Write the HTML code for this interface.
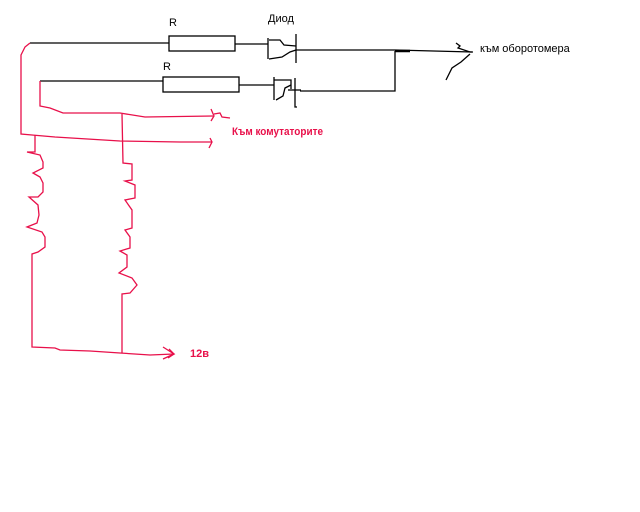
<!DOCTYPE html>
<html><head><meta charset="utf-8"><style>
html,body{margin:0;padding:0;background:#fff;}
svg{display:block;}
</style></head><body>
<svg width="640" height="512" viewBox="0 0 640 512" xmlns="http://www.w3.org/2000/svg">
<rect width="640" height="512" fill="#fff"/>
<g fill="none" stroke="#000" stroke-width="1.3">
  <!-- top branch -->
  <polyline points="30,43 169,43"/>
  <rect x="169" y="36" width="66" height="15"/>
  <polyline points="235,44 268,44"/>
  <polyline points="268,38 268,59"/>
  <polyline points="269,40 280,40 284,45 296,46"/>
  <polyline points="269,59 282,57 290,52 296,50"/>
  <polyline points="296,34 296,63"/>
  <polyline points="296,50 395,50 472,52"/>
  <polyline points="395,51 410,51" stroke-width="2.5"/>
  <polyline points="395,51 395,91 300,91"/>
  <!-- second branch -->
  <polyline points="40,81 163,81"/>
  <rect x="163" y="77" width="76" height="15"/>
  <polyline points="239,85 274,85"/>
  <polyline points="274,77 274,100"/>
  <polyline points="274,80 291,80 291,89"/>
  <polyline points="291,85 285,88 283,96 276,100"/>
  <polyline points="295,78 295,107 297,107"/>
  <polyline points="288,90 301,90"/>
  <!-- arrow to tachometer -->
  <polyline points="456,43 460,46 458,48 470,52 473,52"/>
  <polyline points="470,54 461,62 452,68 446,80"/>
</g>
<text x="480" y="52" font-family="Liberation Sans, sans-serif" font-size="11" fill="#000">към оборотомера</text>
<text x="169" y="26" font-family="Liberation Sans, sans-serif" font-size="11" fill="#000">R</text>
<text x="163" y="70" font-family="Liberation Sans, sans-serif" font-size="11" fill="#000">R</text>
<text x="268" y="22" font-family="Liberation Sans, sans-serif" font-size="11" fill="#000">Диод</text>
<g fill="none" stroke="#e8104a" stroke-width="1.3">
  <polyline points="30,43 25,47 21,55 21,134 32,135 55,137 120,141 180,142 212,142"/>
  <polyline points="210,138 212,142 209,148"/>
  <polyline points="40,81 40,106 50,108 63,113 120,113 145,117 213,116"/>
  <polyline points="211,109 214,116 211,121"/>
  <polyline points="214,114 220,113 222,117 230,118"/>
  <polyline points="122,114 123,163 132,164 132,180 125,181 135,185 135,198 125,200 132,210 132,228 125,230 130,237 130,248 120,251 127,255 127,267 119,273 132,278 137,285 130,293 122,294 122,353"/>
  <polyline points="35,135 35,152 27,152 40,155 43,162 43,168 33,173 40,177 43,183 43,192 38,197 29,197 38,205 39,215 37,223 27,227 42,232 45,237 45,247 38,252 32,254 32,347 55,348 60,350 90,351 120,353 150,355 174,354"/>
  <polyline points="163,347 174,354 163,359"/>
  <polyline points="169,349 174,354 168,358"/>
</g>
<text x="232" y="135" font-family="Liberation Sans, sans-serif" font-size="11" font-weight="bold" fill="#e8104a" textLength="91" lengthAdjust="spacingAndGlyphs">Към комутаторите</text>
<text x="190" y="357" font-family="Liberation Sans, sans-serif" font-size="11" font-weight="bold" fill="#e8104a">12в</text>
</svg>
</body></html>
